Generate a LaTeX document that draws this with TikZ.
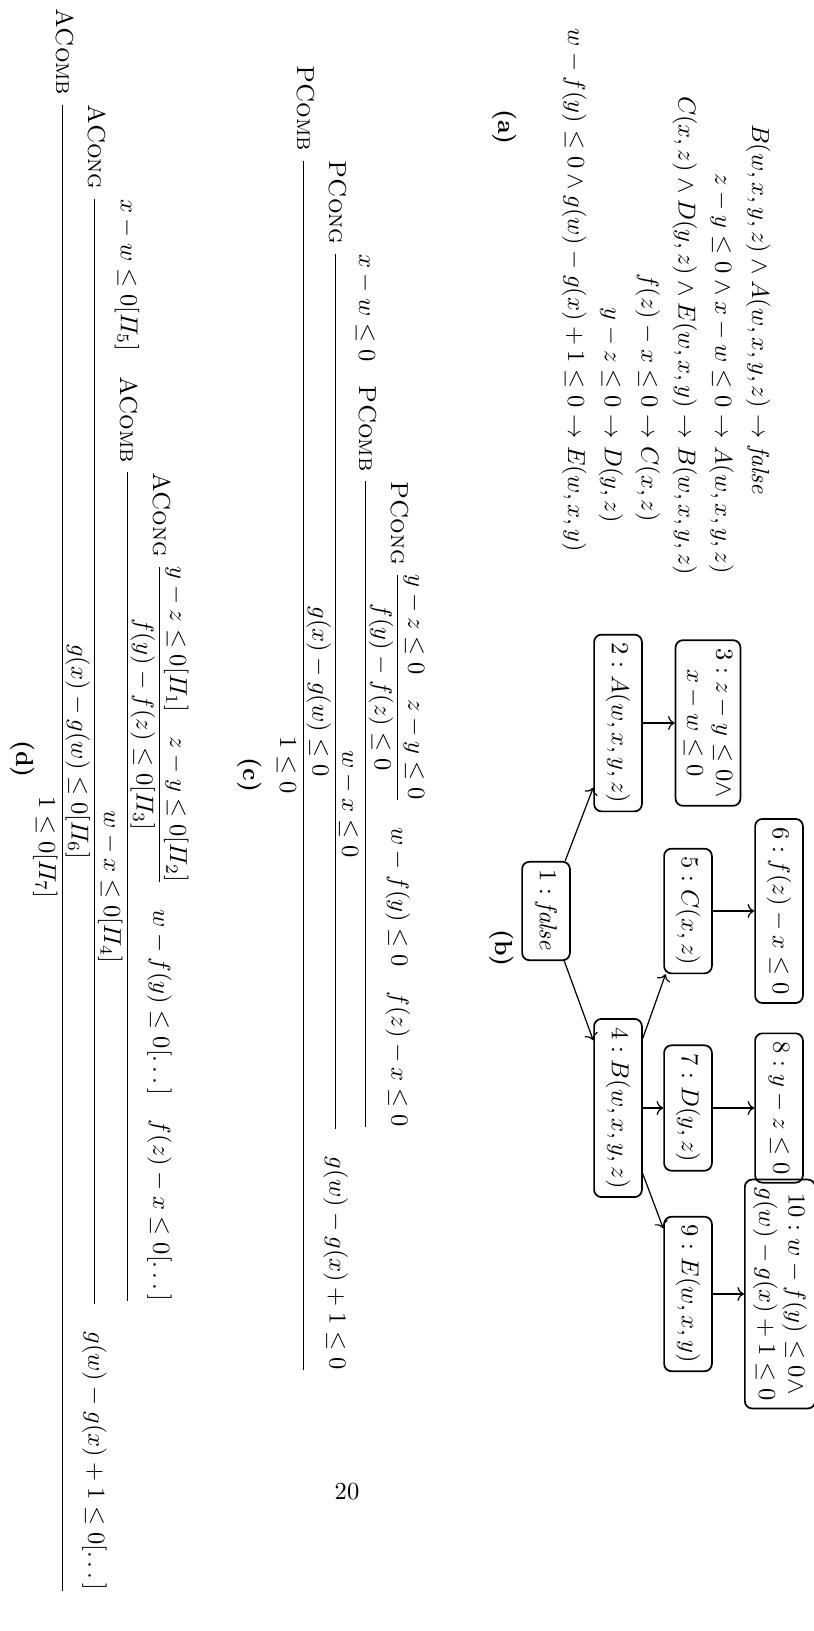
\documentclass[tikz,border=0pt]{standalone}
\usepackage{amsmath,amssymb}
\usetikzlibrary{positioning, arrows.meta}
\newcommand{\rulename}[1]{\textsc{#1}\;}

\begin{document}
\begin{tikzpicture}[
    x=0.408pt, y=-0.408pt,
    turned/.style={rotate=-90, inner sep=0pt},
    state/.style={rectangle, draw, line width=0.7pt, rounded corners=3pt, rotate=-90, minimum height=19.5pt, align=center},
    arrow/.style={->, line width=0.5pt}
]
    \useasboundingbox (0,0) rectangle (813,1631);

    % (a) clauses
    \node[turned] (clauses) at (666,302) {$\begin{aligned}
        B(w,x,y,z)\land A(w,x,y,z) &\rightarrow \mathit{false}\\
        z-y\le 0\land x-w\le 0 &\rightarrow A(w,x,y,z)\\
        C(x,z)\land D(y,z)\land E(w,x,y) &\rightarrow B(w,x,y,z)\\
        f(z)-x\le 0 &\rightarrow C(x,z)\\
        y-z\le 0 &\rightarrow D(y,z)\\
        w-f(y)\le 0\land g(w)-g(x)+1\le 0 &\rightarrow E(w,x,y)
    \end{aligned}$};
    \node[turned] (capa) at (505,127) {\textbf{(a)}};

    % (b) derivation tree
    \node[state] (s1) at (546,911) {$1 : \mathit{false}$};
    \node[state] (s2) at (618,723) {$2 : A(w,x,y,z)$};
    \node[state] (s3) at (708,723) {$3 : z-y\le 0\land$\\$x-w\le 0$};
    \node[state] (s4) at (618,1108) {$4 : B(w,x,y,z)$};
    \node[state] (s5) at (688,911) {$5 : C(x,z)$};
    \node[state] (s6) at (779,911) {$6 : f(z)-x\le 0$};
    \node[state] (s7) at (688,1108) {$7 : D(y,z)$};
    \node[state] (s8) at (779,1108) {$8 : y-z\le 0$};
    \node[state] (s9) at (688,1294) {$9 : E(w,x,y)$};
    \node[state] (s10) at (780,1294) {$10 : w-f(y)\le 0\land$\\$g(w)-g(x)+1\le 0$};

    \draw[arrow] (s1) -- (s2);
    \draw[arrow] (s1) -- (s4);
    \draw[arrow] (s2) -- (s3);
    \draw[arrow] (s4) -- (s5);
    \draw[arrow] (s4) -- (s7);
    \draw[arrow] (s4) -- (s9);
    \draw[arrow] (s5) -- (s6);
    \draw[arrow] (s7) -- (s8);
    \draw[arrow] (s9) -- (s10);
    \node[turned] (capb) at (502,948) {\textbf{(b)}};

    % (c) proof
    \node[turned, anchor=base west] (proofc) at (297,65) {$\rulename{PComb}\dfrac{\rulename{PCong}\dfrac{x-w\le 0\quad\rulename{PComb}\dfrac{\rulename{PCong}\dfrac{y-z\le 0\quad z-y\le 0}{f(y)-f(z)\le 0}\quad w-f(y)\le 0\quad f(z)-x\le 0}{w-x\le 0}}{g(x)-g(w)\le 0}\quad g(w)-g(x)+1\le 0}{1\le 0}$};
    \node[turned] (capc) at (250,775) {\textbf{(c)}};

    % (d) annotated proof
    \node[turned, anchor=base west] (proofd) at (56,8) {$\rulename{AComb}\dfrac{\rulename{ACong}\dfrac{x-w\le 0[\varPi_5]\quad\rulename{AComb}\dfrac{\rulename{ACong}\dfrac{y-z\le 0[\varPi_1]\quad z-y\le 0[\varPi_2]}{f(y)-f(z)\le 0[\varPi_3]}\quad w-f(y)\le 0[\dots]\quad f(z)-x\le 0[\dots]}{w-x\le 0[\varPi_4]}}{g(x)-g(w)\le 0[\varPi_6]}\quad g(w)-g(x)+1\le 0[\dots]}{1\le 0[\varPi_7]}$};
    \node[turned] (capd) at (23,759) {\textbf{(d)}};

    % page number
    \node (page) at (347,1492) {20};
\end{tikzpicture}
\end{document}
